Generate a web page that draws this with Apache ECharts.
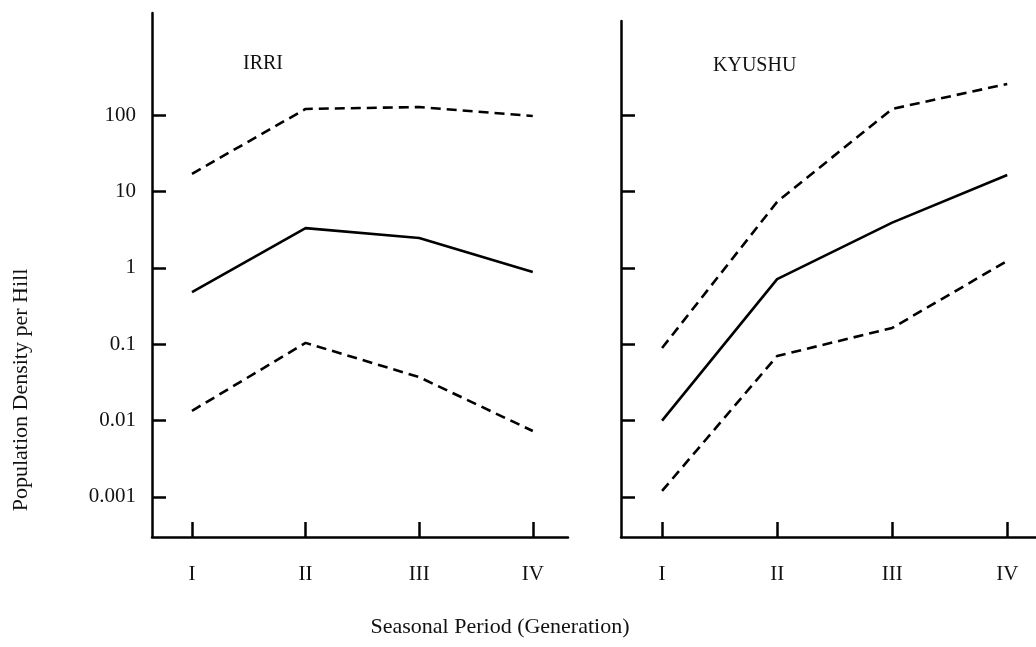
<!DOCTYPE html>
<html>
<head>
<meta charset="utf-8">
<script src="https://cdn.jsdelivr.net/npm/echarts@6/dist/echarts.min.js"></script>
<style>
html,body{margin:0;padding:0;background:#fff;}
#chart{width:1036px;height:647px;}
</style>
</head>
<body>
<div id="chart"></div>
<script>
// ---- data ----
var periods = ['I', 'II', 'III', 'IV'];
var periodPos = [1, 2, 3, 4];
var yTickValues = [0.001, 0.01, 0.1, 1, 10, 100];
var yTickLabels = ['0.001', '0.01', '0.1', '1', '10', '100'];
var panelTitles = ['IRRI', 'KYUSHU'];

var irriUpper = [17, 120, 127, 97];
var irriMean  = [0.48, 3.3, 2.45, 0.88];
var irriLower = [0.0134, 0.104, 0.037, 0.0073];

var kyushuUpper = [0.089, 7.3, 120, 255];
var kyushuMean  = [0.010, 0.71, 3.9, 16.4];
var kyushuLower = [0.0012, 0.070, 0.163, 1.23];

var yTitle = 'Population Density per Hill';
var xTitle = 'Seasonal Period (Generation)';

// ---- chart ----
var FONT = 'Liberation Serif';
var lg = function (v) { return Math.log10(v); };
var toPts = function (arr) { return arr.map(function (v, i) { return [periodPos[i], lg(v)]; }); };
var logTicks = yTickValues.map(lg);

function xAxisFor(idx, min, max) {
  return {
    type: 'value', gridIndex: idx, min: min, max: max,
    axisLine: { show: true, onZero: false, lineStyle: { color: '#000', width: 2.5 } },
    axisTick: { show: true, inside: true, length: 15, customValues: periodPos,
      lineStyle: { color: '#000', width: 2.5 } },
    axisLabel: { show: true, customValues: periodPos, margin: 27,
      fontFamily: FONT, fontSize: 21, color: '#111',
      formatter: function (v) { return periods[Math.round(v) - 1]; } },
    splitLine: { show: false }
  };
}
function yAxisFor(idx, max, showLabels) {
  return {
    type: 'value', gridIndex: idx, min: -3.524, max: max,
    axisLine: { show: true, onZero: false, lineStyle: { color: '#000', width: 2.5 } },
    axisTick: { show: true, inside: true, length: 14, customValues: logTicks,
      lineStyle: { color: '#000', width: 2.5 } },
    axisLabel: { show: showLabels, customValues: logTicks, margin: 16,
      fontFamily: FONT, fontSize: 21, color: '#111',
      formatter: function (v) {
        var i = logTicks.findIndex(function (t) { return Math.abs(t - v) < 1e-6; });
        return i >= 0 ? yTickLabels[i] : '';
      } },
    splitLine: { show: false }
  };
}
function lineSeries(idx, arr, dashed) {
  return {
    type: 'line', xAxisIndex: idx, yAxisIndex: idx, data: toPts(arr),
    symbol: 'none', silent: true,
    lineStyle: { color: '#000', width: 2.6, type: dashed ? [10, 6] : 'solid' }
  };
}

var chart = echarts.init(document.getElementById('chart'));
chart.setOption({
  animation: false,
  backgroundColor: '#fff',
  grid: [
    { left: 152, top: 13, width: 416, height: 524 },
    { left: 621, top: 21, width: 415, height: 516 }
  ],
  xAxis: [xAxisFor(0, 0.648, 4.31), xAxisFor(1, 0.643, 4.25)],
  yAxis: [yAxisFor(0, 3.335, true), yAxisFor(1, 3.23, false)],
  title: [
    { text: panelTitles[0], left: 238, top: 49,
      textStyle: { fontFamily: FONT, fontSize: 20, fontWeight: 'normal', color: '#111' } },
    { text: panelTitles[1], left: 708, top: 51,
      textStyle: { fontFamily: FONT, fontSize: 20, fontWeight: 'normal', color: '#111' } }
  ],
  graphic: [
    { type: 'text', x: 21, y: 390, rotation: Math.PI / 2,
      style: { text: yTitle, font: '22px "Liberation Serif"', fill: '#111',
        align: 'center', verticalAlign: 'middle' } },
    { type: 'text', x: 500, y: 627,
      style: { text: xTitle, font: '22px "Liberation Serif"', fill: '#111',
        align: 'center', verticalAlign: 'middle' } }
  ],
  series: [
    lineSeries(0, irriUpper, true),
    lineSeries(0, irriMean, false),
    lineSeries(0, irriLower, true),
    lineSeries(1, kyushuUpper, true),
    lineSeries(1, kyushuMean, false),
    lineSeries(1, kyushuLower, true)
  ]
});
</script>
</body>
</html>
